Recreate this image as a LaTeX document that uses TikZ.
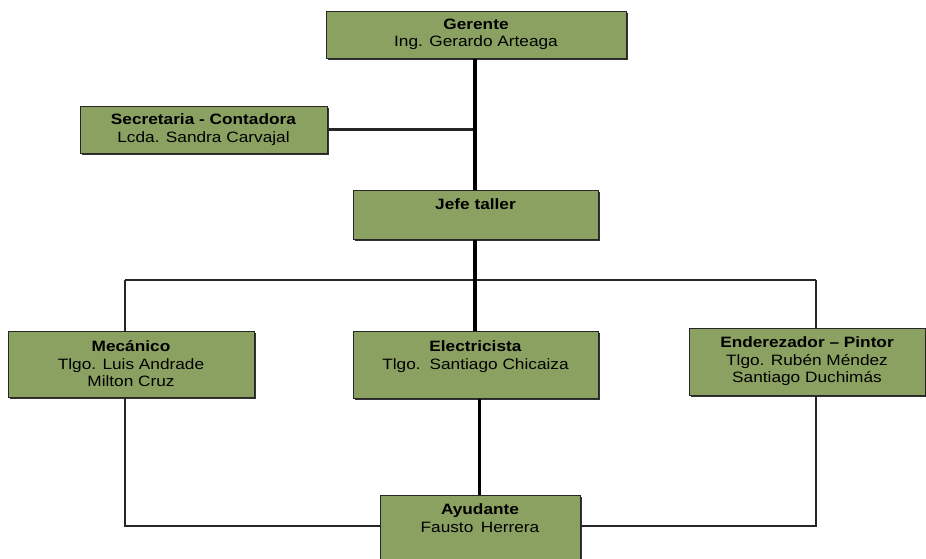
\documentclass[tikz,border=0pt]{standalone}
\usepackage{fontspec}
\setmainfont{Liberation Sans}[FakeStretch=1.15]
\usetikzlibrary{shadows}
\definecolor{boxgreen}{RGB}{139,161,97}
\tikzset{
  unit/.style={draw=black!85, line width=1pt, fill=boxgreen, inner sep=0pt,
    drop shadow={shadow xshift=1.8pt, shadow yshift=-1.8pt, fill=black!80, opacity=1}},
  caption/.style={anchor=north, align=center, inner sep=0pt,
    font=\fontsize{15}{17.5}\selectfont},
  main link/.style={line width=4pt},
  sub link/.style={line width=3pt},
  side link/.style={line width=2.3pt, draw=black!85},
}
\begin{document}
\begin{tikzpicture}[x=1pt, y=-1pt]
\useasboundingbox (0,0) rectangle (926,558);

% boxes
\node[unit, minimum width=300, minimum height=47] (ger)   at (476,34.5)  {};
\node[unit, minimum width=247, minimum height=47] (sec)   at (203.5,129.5) {};
\node[unit, minimum width=245, minimum height=49] (jefe)  at (475.5,214.5) {};
\node[unit, minimum width=246, minimum height=66] (mec)   at (131,364)   {};
\node[unit, minimum width=245, minimum height=67] (elec)  at (475.5,364.5) {};
\node[unit, minimum width=236, minimum height=67] (ender) at (807,361.5) {};
\node[unit, minimum width=200, minimum height=72] (ayu)   at (480,531)   {};

% captions
\node[caption] (tger)   at ([yshift=-8pt]ger.north)   {\textbf{Gerente}\\Ing. Gerardo Arteaga};
\node[caption] (tsec)   at ([yshift=-8pt]sec.north)   {\textbf{Secretaria - Contadora}\\Lcda. Sandra Carvajal};
\node[caption] (tjefe)  at ([yshift=-9pt]jefe.north)  {\textbf{Jefe taller}};
\node[caption] (tmec)   at ([yshift=-10pt]mec.north)  {\textbf{Mecánico}\\Tlgo. Luis Andrade\\Milton Cruz};
\node[caption] (telec)  at ([yshift=-10pt]elec.north) {\textbf{Electricista}\\Tlgo.\hspace{0.6em}Santiago Chicaiza};
\node[caption] (tender) at ([yshift=-9pt]ender.north) {\textbf{Enderezador – Pintor}\\Tlgo. Rubén Méndez\\Santiago Duchimás};
\node[caption] (tayu)   at ([yshift=-9pt]ayu.north)   {\textbf{Ayudante}\\Fausto\hspace{0.5em}Herrera};

% guide points for the connectors
\coordinate (spine) at (475,0);
\coordinate (barL)  at (125,280);
\coordinate (barR)  at (816,280);
\coordinate (botL)  at (125,526);
\coordinate (botR)  at (816,526);
\coordinate (low)   at (479,0);

% connectors
\draw[side link] (sec.east) -- (sec.east -| spine);
\draw[side link] (barL) -- (barR);
\draw[side link] (barL) -- (barL |- mec.north);
\draw[side link] (barR) -- (barR |- ender.north);
\draw[side link] (botL |- mec.south) -- (botL) -- (ayu.west |- botL);
\draw[side link] (botR |- ender.south) -- (botR) -- (ayu.east |- botR);
\draw[main link] (ger.south -| spine) -- (jefe.north -| spine);
\draw[main link] (jefe.south -| spine) -- (elec.north -| spine);
\draw[sub link] (elec.south -| low) -- (ayu.north -| low);
\end{tikzpicture}
\end{document}
